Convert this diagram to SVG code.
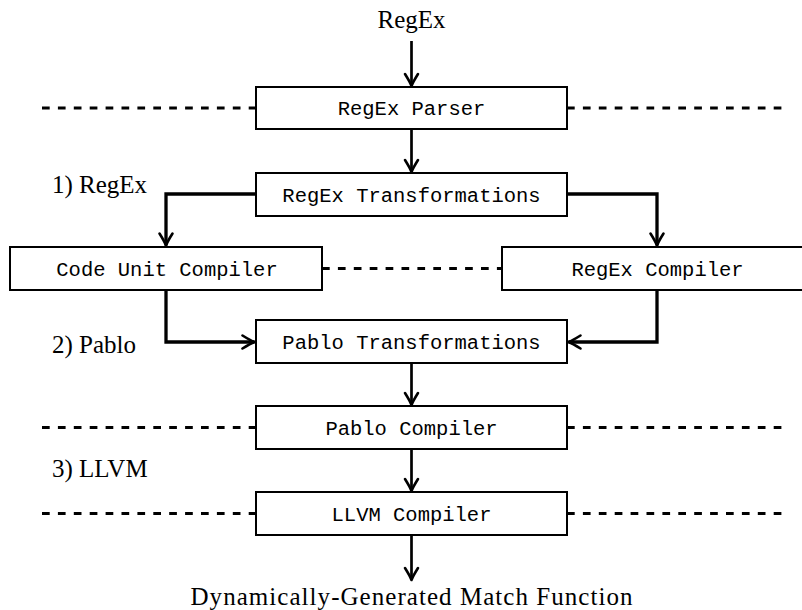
<svg xmlns="http://www.w3.org/2000/svg" width="802" height="610" viewBox="0 0 802 610">
  <style>
    .box { fill: #ffffff; stroke: #000000; stroke-width: 2; }
    .lbl { font-family: "Liberation Mono", "DejaVu Sans Mono", monospace; font-size: 20.5px; fill: #000000; text-anchor: middle; }
    .ser { font-family: "Liberation Serif", "DejaVu Serif", serif; font-size: 25px; fill: #000000; }
    .dash { stroke: #000000; stroke-width: 3.2; stroke-dasharray: 7.7 8.2; fill: none; }
    .arr { stroke: #000000; stroke-width: 2.7; fill: none; marker-end: url(#head); }
    .bend { stroke: #000000; stroke-width: 3.3; fill: none; stroke-linejoin: miter; marker-end: url(#head); }
  </style>
  <defs>
    <marker id="head" markerUnits="userSpaceOnUse" markerWidth="20" markerHeight="20" viewBox="-14 -10 16 20" refX="0" refY="0" orient="auto">
      <path d="M -12 -6.5 Q -4 -1.5 0 0 Q -4 1.5 -12 6.5" fill="none" stroke="#000000" stroke-width="2.6" stroke-linecap="round" stroke-linejoin="round"/>
    </marker>
  </defs>

  <rect width="802" height="610" fill="#ffffff"/>

  <g id="separators">
    <line class="dash" x1="42" y1="108" x2="256" y2="108"/>
    <line class="dash" x1="567" y1="108" x2="783" y2="108"/>
    <line class="dash" x1="322" y1="268.5" x2="502" y2="268.5"/>
    <line class="dash" x1="42" y1="427.5" x2="256" y2="427.5"/>
    <line class="dash" x1="567" y1="427.5" x2="783" y2="427.5"/>
    <line class="dash" x1="42" y1="513.5" x2="256" y2="513.5"/>
    <line class="dash" x1="567" y1="513.5" x2="783" y2="513.5"/>
  </g>

  <g id="connectors">
    <line class="arr" x1="411.5" y1="41" x2="411.5" y2="86"/>
    <line class="arr" x1="411.5" y1="130" x2="411.5" y2="172"/>
    <path class="bend" d="M 256 194 H 166 V 245.5"/>
    <path class="bend" d="M 567 194 H 657 V 245.5"/>
    <path class="bend" d="M 166 291 V 342 H 254.5"/>
    <path class="bend" d="M 657 291 V 342 H 568.5"/>
    <line class="arr" x1="411.5" y1="364" x2="411.5" y2="405"/>
    <line class="arr" x1="411.5" y1="450" x2="411.5" y2="491"/>
    <line class="arr" x1="411.5" y1="536" x2="411.5" y2="580"/>
  </g>

  <g id="node-regex-parser">
    <rect class="box" x="256" y="87" width="311" height="42"/>
    <text class="lbl" x="411.5" y="115">RegEx Parser</text>
  </g>
  <g id="node-regex-transformations">
    <rect class="box" x="256" y="173" width="311" height="43"/>
    <text class="lbl" x="411.5" y="201.5">RegEx Transformations</text>
  </g>
  <g id="node-code-unit-compiler">
    <rect class="box" x="10" y="247" width="312" height="43"/>
    <text class="lbl" x="167" y="275.5">Code Unit Compiler</text>
  </g>
  <g id="node-regex-compiler">
    <rect class="box" x="502" y="247" width="320" height="43"/>
    <text class="lbl" x="657.5" y="275.5">RegEx Compiler</text>
  </g>
  <g id="node-pablo-transformations">
    <rect class="box" x="256" y="320" width="311" height="43"/>
    <text class="lbl" x="411.5" y="348.5">Pablo Transformations</text>
  </g>
  <g id="node-pablo-compiler">
    <rect class="box" x="256" y="406" width="311" height="43"/>
    <text class="lbl" x="411.5" y="434.5">Pablo Compiler</text>
  </g>
  <g id="node-llvm-compiler">
    <rect class="box" x="256" y="492" width="311" height="43"/>
    <text class="lbl" x="411.5" y="520.5">LLVM Compiler</text>
  </g>

  <g id="labels">
    <text class="ser" x="411.5" y="28" text-anchor="middle">RegEx</text>
    <text class="ser" x="52" y="193">1) RegEx</text>
    <text class="ser" x="52" y="353">2) Pablo</text>
    <text class="ser" x="52" y="477">3) LLVM</text>
    <text class="ser" x="411.5" y="605" text-anchor="middle" textLength="442" lengthAdjust="spacing">Dynamically-Generated Match Function</text>
  </g>
</svg>
